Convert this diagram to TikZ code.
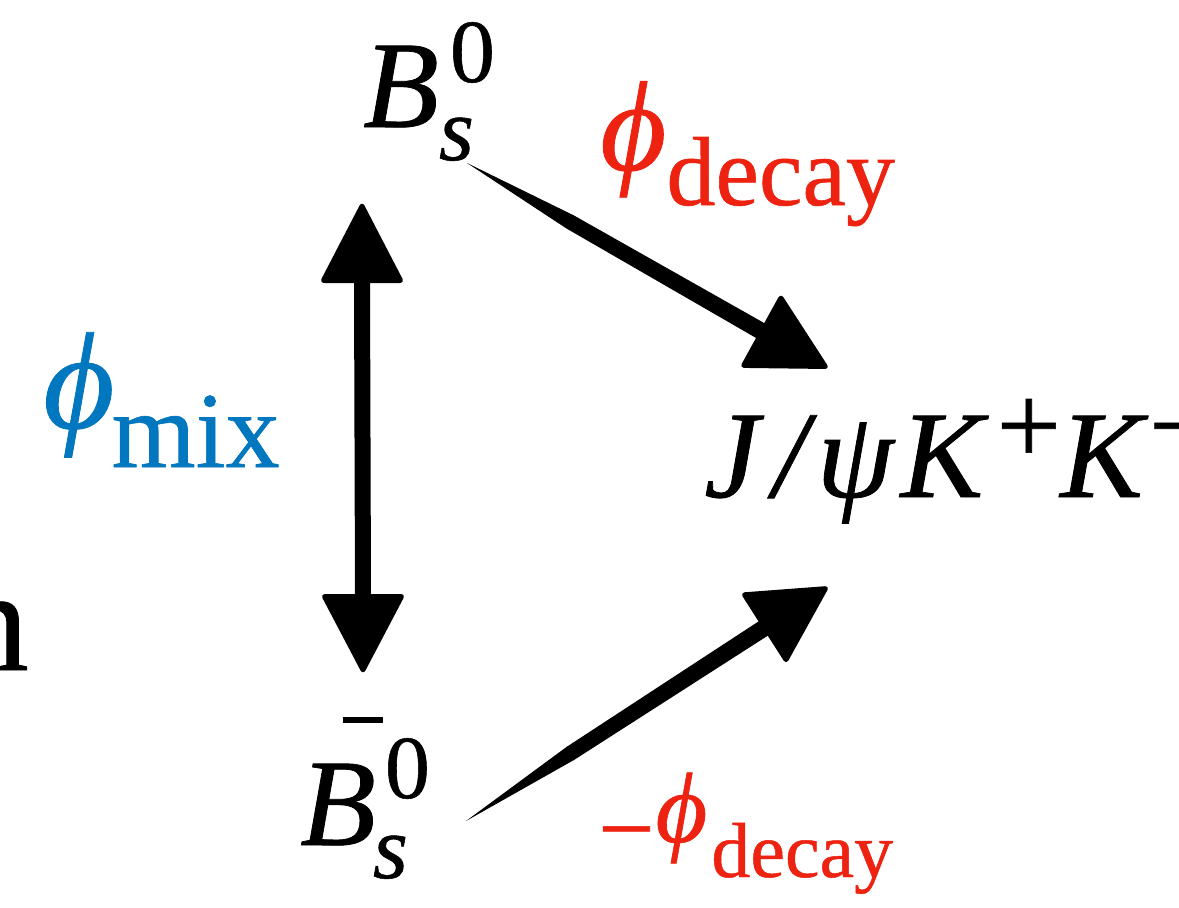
\documentclass[tikz,border=0pt]{standalone}
\usepackage{fontspec}
\setmainfont{Liberation Serif}[RawFeature={embolden=0.6}]
\usetikzlibrary{calc}
\definecolor{phired}{RGB}{238,34,17}
\definecolor{phiblue}{RGB}{0,119,190}
\newcommand{\fsz}[1]{\fontsize{#1}{#1}\selectfont}
\tikzset{
  lbl/.style={inner sep=0pt, anchor=base west},
  shaft/.style={fill=black},
  head/.style={fill=black, draw=black, line width=2pt, line join=round, rounded corners=3pt},
}
\begin{document}
\begin{tikzpicture}[x=1pt,y=-1pt]
\useasboundingbox (0,0) rectangle (1179,908);
\clip (0,0) rectangle (1179,908);
\fill[white] (0,0) rectangle (1179,908);

% texts
\node[lbl] (Bs) at (363,127) {{\fsz{124}\itshape B}\rlap{\kern11pt\raisebox{45pt}{\fsz{90}0}}\raisebox{-33pt}{\fsz{90}\itshape s}};
\node[lbl] (Bsbar) at (300,845) {\rlap{\kern43pt\raisebox{122pt}{\rule{40pt}{6pt}}}{\fsz{124}\itshape B}\rlap{\kern9pt\raisebox{47pt}{\fsz{90}0}}\kern-3pt\raisebox{-33pt}{\fsz{90}\itshape s}};
\node[lbl] (JK) at (704,497) {\fsz{124}\itshape J\kern14pt/\kern9ptψ\kern7ptK\kern13pt\raisebox{33pt}{\fsz{115}\upshape +}\kern-1ptK\kern6pt\raisebox{33pt}{\fsz{115}\upshape −}};
\node[lbl, text=phired] (pd) at (600,205) {\raisebox{35pt}{\fsz{128}\itshape ϕ}\fsz{98}decay};
\node[lbl, text=phiblue] (pm) at (43,467) {\raisebox{39pt}{\fsz{138}\itshape ϕ}\kern-3pt\fsz{108}mix};
\node[lbl, text=phired] (md) at (598,877) {\raisebox{15pt}{\fsz{100}−}\kern1pt\raisebox{35pt}{\fsz{100}\itshape ϕ}\kern4pt\fsz{78}decay};
\node[inner sep=0pt, anchor=base east] (n) at (29,670) {\fsz{145}n};

% arrow geometry
\coordinate (vt) at (362,203);
\coordinate (vtb) at (362,282);
\coordinate (vb) at (363,673);
\coordinate (vbb) at (363,595);
\coordinate (tr0) at (467,163);
\coordinate (trb) at (761,331);
\coordinate (trt) at (828,368);
\coordinate (br0) at (466,821);
\coordinate (brb) at (764,628);
\coordinate (brt) at (828,587);

% vertical double arrow
\draw[line width=16pt] ($(vtb)!-3pt!(vbb)$) -- ($(vbb)!-3pt!(vtb)$);
\filldraw[head] (vt) -- ($(vtb)!41pt!90:(vt)$) -- ($(vtb)!41pt!-90:(vt)$) -- cycle;
\filldraw[head] (vb) -- ($(vbb)!41pt!90:(vb)$) -- ($(vbb)!41pt!-90:(vb)$) -- cycle;

% decay arrows (tapered brush shafts)
\fill[shaft] (tr0) -- ($(tr0)!0.35!(trb)!7.5pt!90:(trb)$) -- ($(trb)!8.5pt!-90:(tr0)$) -- ($(trb)!8.5pt!90:(tr0)$) -- ($(tr0)!0.35!(trb)!7.5pt!-90:(trb)$) -- cycle;
\filldraw[head] (trt) -- ($(trb)!41pt!90:(trt)$) -- ($(trb)!41pt!-90:(trt)$) -- cycle;
\fill[shaft] (br0) -- ($(br0)!0.35!(brb)!7.5pt!90:(brb)$) -- ($(brb)!8.5pt!-90:(br0)$) -- ($(brb)!8.5pt!90:(br0)$) -- ($(br0)!0.35!(brb)!7.5pt!-90:(brb)$) -- cycle;
\filldraw[head] (brt) -- ($(brb)!41pt!90:(brt)$) -- ($(brb)!41pt!-90:(brt)$) -- cycle;
\end{tikzpicture}
\end{document}
